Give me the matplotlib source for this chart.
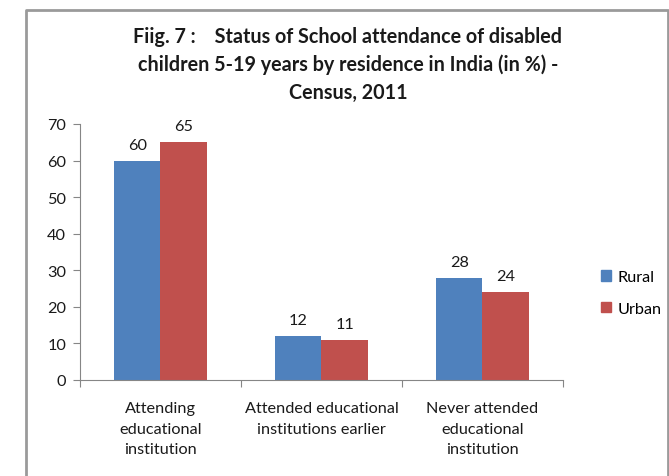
import matplotlib
matplotlib.use("Agg")
import matplotlib.pyplot as plt
import numpy as np
from matplotlib.patches import Rectangle
from matplotlib.lines import Line2D

categories = ["Attending\neducational\ninstitution",
              "Attended educational\ninstitutions earlier",
              "Never attended\neducational\ninstitution"]
rural = [60, 12, 28]
urban = [65, 11, 24]
series_names = ["Rural", "Urban"]
yticks = [0, 10, 20, 30, 40, 50, 60, 70]

plt.rcParams['font.family'] = ['Lato', 'DejaVu Sans']

fig = plt.figure(figsize=(6.69, 4.77), dpi=100)
ax = fig.add_axes([80/669, 1-381/477, (563-80)/669, (381-125)/477])

blue = "#4F81BD"
red = "#C0504D"
axc = "#868686"
tc = "#1a1a1a"
fs = 11.7
x = np.arange(len(categories))
w = 0.29
ax.bar(x - w/2, rural, w, color=blue, label=series_names[0])
ax.bar(x + w/2, urban, w, color=red, label=series_names[1])

for xi, v in zip(x - w/2, rural):
    ax.annotate(str(v), (xi, v), xytext=(0, 6.5), textcoords="offset points",
                ha="center", va="bottom", fontsize=fs, color=tc)
for xi, v in zip(x + w/2, urban):
    ax.annotate(str(v), (xi, v), xytext=(0, 6.5), textcoords="offset points",
                ha="center", va="bottom", fontsize=fs, color=tc)

ax.set_xlim(-0.5, 2.5)
ax.set_ylim(0, 70)
ax.set_yticks(yticks)
ax.tick_params(axis='y', direction='out', length=5, color=axc, labelsize=fs,
               labelcolor=tc, pad=5)
ax.set_xticks([-0.5, 0.5, 1.5, 2.5])
ax.set_xticklabels([])
ax.tick_params(axis='x', direction='out', length=5, color=axc)
ax.set_xticks(x, minor=True)
ax.set_xticklabels(categories, minor=True, fontsize=fs, color=tc,
                   linespacing=1.62)
ax.tick_params(axis='x', which='minor', length=0, pad=15)

for s in ['top', 'right']:
    ax.spines[s].set_visible(False)
ax.spines['left'].set_color(axc)
ax.spines['bottom'].set_color(axc)

fig.text(348/669, 1-65/477,
         "Fiig. 7 :    Status of School attendance of disabled\n"
         "children 5-19 years by residence in India (in %) -\n"
         "Census, 2011",
         ha="center", va="center", fontsize=14.2, fontweight="bold",
         color=tc, linespacing=1.45)

handles = [Rectangle((0, 0), 1, 1, color=blue), Rectangle((0, 0), 1, 1, color=red)]
leg = fig.legend(handles, series_names, loc="center left",
                 bbox_to_anchor=(586/669, 1-294/477), frameon=False,
                 fontsize=fs, handlelength=0.65, handleheight=0.65,
                 handletextpad=0.4, labelspacing=1.05)

# outer frame (left, top, right)
frame = Line2D([26/669, 26/669, 668/669, 668/669],
               [0, 1-11/477, 1-11/477, 0],
               transform=fig.transFigure, color="#9a9a9a", lw=2)
fig.add_artist(frame)

fig.savefig("out.png", dpi=100)
